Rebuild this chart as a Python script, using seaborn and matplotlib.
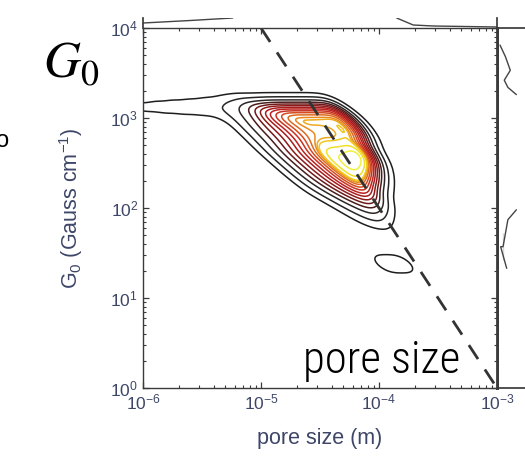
import numpy as np
import pandas as pd
import matplotlib
matplotlib.use("Agg")
import matplotlib.pyplot as plt
from matplotlib import font_manager
import seaborn as sns

# Weighted observations, log10 of pore size (m) and of G0 (Gauss/cm), row by row
log_pore = [
    -6.15, -6.00, -5.85, -5.70, -5.55, -5.40, -5.25, -5.12,
    -4.98, -4.86, -4.74, -4.62, -4.50, -4.38,
    -4.73, -4.61, -4.49, -4.37, -4.25, -4.85, -4.97, -5.09, -5.21,
    -4.62, -4.50, -4.38, -4.26, -4.17, -4.74, -4.86, -4.98, -5.10,
    -4.51, -4.39, -4.27, -4.15, -4.63, -4.75, -4.87, -4.99,
    -4.40, -4.28, -4.16, -4.08, -4.52, -4.64, -4.76, -4.88,
    -4.30, -4.18, -4.07, -4.42, -4.54, -4.66, -4.78,
    -4.19, -4.07, -4.31, -4.43, -4.55, -4.67,
    -4.08, -4.20, -4.32, -4.44, -4.56,
    -4.04, -4.16, -4.28, -4.40,
    -4.02, -4.14, -4.26,
    -4.00, -4.12,
    -3.95, -3.80]
log_g0 = [
    3.12, 3.12, 3.12, 3.12, 3.12, 3.12, 3.12, 3.12,
    3.09, 3.09, 3.09, 3.09, 3.09, 3.09,
    2.96, 2.96, 2.96, 2.96, 2.96, 2.96, 2.96, 2.96, 2.96,
    2.82, 2.82, 2.82, 2.82, 2.82, 2.82, 2.82, 2.82, 2.82,
    2.68, 2.68, 2.68, 2.68, 2.68, 2.68, 2.68, 2.68,
    2.56, 2.56, 2.56, 2.56, 2.56, 2.56, 2.56, 2.56,
    2.44, 2.44, 2.44, 2.44, 2.44, 2.44, 2.44,
    2.32, 2.32, 2.32, 2.32, 2.32, 2.32,
    2.20, 2.20, 2.20, 2.20, 2.20,
    2.08, 2.08, 2.08, 2.08,
    1.96, 1.96, 1.96,
    1.84, 1.84,
    1.38, 1.38]
weight = [
    0.75, 0.8, 0.9, 1.0, 1.1, 1.3, 1.6, 2.2,
    3.5, 4.0, 4.0, 4.0, 4.0, 4.0,
    4.0, 4.0, 4.0, 4.0, 4.0, 3.2, 2.4, 1.6, 0.8,
    4.0, 4.0, 4.0, 4.0, 3.5, 3.2, 2.4, 1.6, 0.8,
    4.0, 4.0, 4.0, 4.0, 3.2, 2.4, 1.6, 0.8,
    4.0, 4.0, 4.0, 3.0, 3.2, 2.4, 1.6, 0.8,
    4.0, 4.0, 4.0, 3.2, 2.4, 1.6, 0.8,
    4.0, 4.0, 3.2, 2.4, 1.6, 0.8,
    3.5, 3.0, 2.2, 1.4, 0.7,
    2.5, 2.0, 1.3, 0.6,
    1.5, 1.0, 0.5,
    0.8, 0.4,
    1.3, 1.3]

# Scaling line G0 ~ a^-2
scaling_pore = [1e-5, 1e-3]
scaling_g0 = [1e4, 1e0]

# Contour iso-proportions and their colours (dark outer -> yellow inner)
contour_levels = list(np.linspace(0.04, 0.96, 16))
contour_colors = ['#1e1e1e', '#262626', '#2e2626', '#4a1c1c', '#6e1a1a', '#8c1a1a',
                  '#a81c1c', '#bc2020', '#c83220', '#d44c20', '#de6a20', '#e88a20',
                  '#eeaa20', '#f0c820', '#f0e028', '#f0f040']

# Edge pieces of the neighbouring panels
right_piece1_x = [10**-5.975, 10**-5.93, 10**-5.89, 10**-5.94, 10**-5.91, 10**-5.84]
right_piece1_y = [10**3.81, 10**3.68, 10**3.53, 10**3.42, 10**3.34, 10**3.26]
right_piece2_x = [10**-5.84, 10**-5.91, 10**-5.95, 10**-5.97, 10**-5.95, 10**-5.92]
right_piece2_y = [10**1.98, 10**1.87, 10**1.72, 10**1.57, 10**1.42, 10**1.33]
top_piece1_x = [1e-6, 10**-5.6, 10**-5.24]
top_piece1_y = [0.5, 0.75, 1.0]
top_piece2_x = [10**-3.85, 10**-3.71, 10**-3.54, 1e-3]
top_piece2_y = [1.0, 0.3, 0.2, 0.1]

sns.set_theme(style="ticks")
plt.rcParams["font.family"] = ["Liberation Sans", "DejaVu Sans"]
plt.rcParams["mathtext.fontset"] = "custom"
plt.rcParams["mathtext.rm"] = "Liberation Sans"
plt.rcParams["mathtext.it"] = "Liberation Sans:italic"
plt.rcParams["mathtext.default"] = "regular"

W, H = 525, 462
fig = plt.figure(figsize=(W / 100, H / 100), dpi=100)

def px_axes(x0, y0, x1, y1):
    return fig.add_axes([x0 / W, 1 - y1 / H, (x1 - x0) / W, (y1 - y0) / H])

spine_col = "#3a3a3a"
label_col = "#3e4668"

# neighbouring panel to the right
axr = px_axes(497, 28, 860, 388)
axr.set_xscale("log"); axr.set_yscale("log")
axr.set_xlim(1e-6, 1e-3); axr.set_ylim(1, 1e4)
sns.lineplot(x=right_piece1_x, y=right_piece1_y, ax=axr, color="#444444", lw=1.0, sort=False)
sns.lineplot(x=right_piece2_x, y=right_piece2_y, ax=axr, color="#444444", lw=1.0, sort=False)
axr.set_xticks([]); axr.set_yticks([])
axr.minorticks_off()
axr.spines["right"].set_visible(False)
for s in ["left", "top", "bottom"]:
    axr.spines[s].set_color(spine_col)
axr.spines["left"].set_linewidth(2.0)

# neighbouring panel above
axt = px_axes(143, 18, 497, 28)
axt.set_xscale("log")
axt.set_xlim(1e-6, 1e-3); axt.set_ylim(0, 1)
sns.lineplot(x=top_piece1_x, y=top_piece1_y, ax=axt, color="#444444", lw=1.0, sort=False)
sns.lineplot(x=top_piece2_x, y=top_piece2_y, ax=axt, color="#444444", lw=1.0, sort=False)
axt.set_xticks([]); axt.set_yticks([]); axt.minorticks_off()
axt.spines["top"].set_visible(False)
axt.spines["bottom"].set_visible(False)
for s in ["left", "right"]:
    axt.spines[s].set_color(spine_col)

# main panel
ax = px_axes(143, 28, 497, 388)
df = pd.DataFrame({"pore": np.power(10.0, log_pore), "g0": np.power(10.0, log_g0), "w": weight})
sns.kdeplot(data=df, x="pore", y="g0", weights="w", log_scale=True, ax=ax,
            levels=contour_levels, colors=contour_colors, linewidths=1.1,
            bw_adjust=0.55, gridsize=300, cut=8)
sns.lineplot(x=scaling_pore, y=scaling_g0, ax=ax, color="#333333", lw=2.0,
             dashes=False, linestyle=(0, (6, 4.5)))
ax.set_xlim(1e-6, 1e-3)
ax.set_ylim(1, 1e4)
ax.tick_params(which="both", direction="in", top=True, right=True,
               color=spine_col, labelcolor=label_col, labelsize=12.5)
ax.tick_params(which="major", length=4, width=0.9)
ax.tick_params(which="minor", length=2.2, width=0.8)
for s in ax.spines.values():
    s.set_color(spine_col)
    s.set_linewidth(1.0)
ax.spines["right"].set_linewidth(2.0)
ax.set_xlabel("pore size (m)", fontsize=15.5, color=label_col, labelpad=11)
ax.set_ylabel(r"G$_0$ (Gauss cm$^{-1}$)", fontsize=15.5, color=label_col, labelpad=18)

# narrow sans for the in-panel caption when one is installed
names = {f.name for f in font_manager.fontManager.ttflist}
narrow = next((n for n in ["Liberation Sans Narrow", "Arial Narrow", "Roboto Condensed",
                           "Open Sans Condensed", "DejaVu Sans Condensed"] if n in names), None)
cap_kw = dict(family=[narrow] if narrow else ["Liberation Sans"], weight="light")
cap = ax.text(0.895, 0.042, "pore size", transform=ax.transAxes, ha="right", va="baseline",
              fontsize=34, color="black", **cap_kw)
fig.canvas.draw()
cap_w = cap.get_window_extent().width
cap.set_fontsize(min(36, 34 * 157 / cap_w))

fig.text(43 / W, 1 - 77 / H, r"$\mathit{G}_{\mathrm{0}}$", fontsize=37, math_fontfamily="stix",
         ha="left", va="baseline", color="black")
fig.text(9 / W, 1 - 147 / H, "o", fontsize=17, ha="right", va="baseline", color="black")

fig.savefig("out.png", dpi=100)
